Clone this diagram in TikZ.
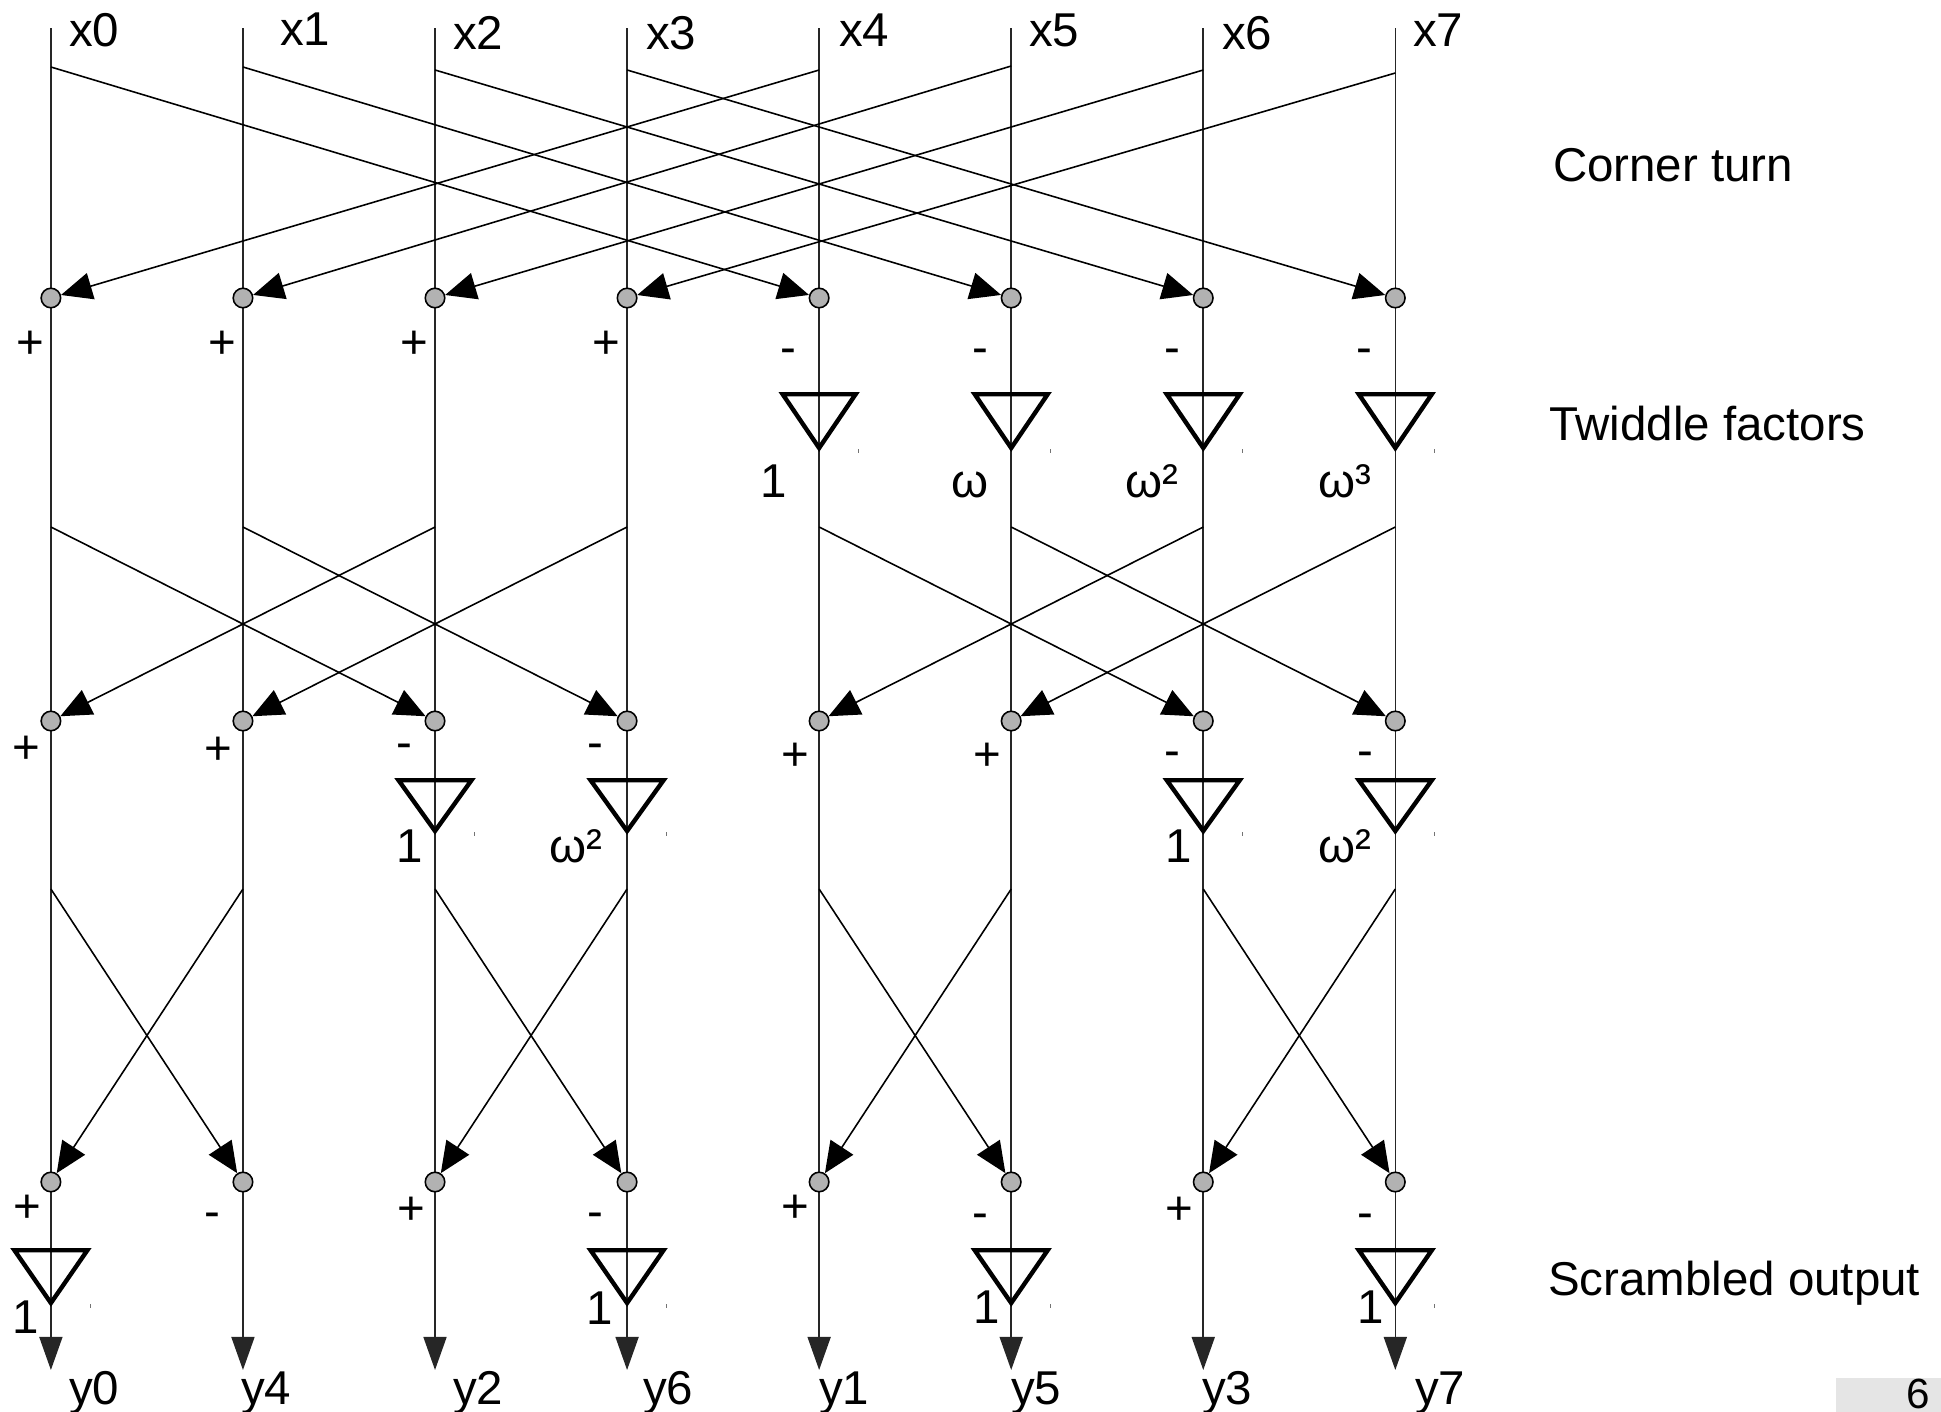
\documentclass[tikz,border=0pt]{standalone}
\usepackage{fontspec}
\setmainfont{Liberation Sans}
\usetikzlibrary{arrows.meta}
\begin{document}
\begin{tikzpicture}[x=0.01cm,y=-0.01cm,
  wire/.style={line width=0.45pt, draw=black!85},
  diag/.style={line width=0.45pt, draw=black},
  tipd/.style={-{Triangle[length=0.33cm,width=0.23cm]}},
  tipx/.style={-{Triangle[length=0.31cm,width=0.27cm]}},
  sumdot/.style={circle, draw=black, line width=0.45pt, fill=black!30, minimum size=0.195cm, inner sep=0pt},
  twid/.style={draw=black, line width=1.25pt, line join=miter},
  lbl/.style={inner sep=0pt, outer sep=0pt, font=\fontsize{13.5pt}{16pt}\selectfont},
  handle/.style={line width=0.3pt, draw=black!55}
]
\useasboundingbox (0,0) rectangle (1941,1412);
% column coordinates
\foreach \i in {0,...,7}{
  \pgfmathsetmacro\cx{50.9+192.06*\i}
  \coordinate (top\i) at (\cx,28);
  \coordinate (bot\i) at (\cx,1370);
  \coordinate (sb\i) at (\cx,527);
  \coordinate (sc\i) at (\cx,889);
}
% vertical wires with output arrows
\foreach \i in {0,...,7}{
  \draw[wire,tipd] (top\i) -- (bot\i);
}
% twiddle-factor triangles
\foreach \i/\yt/\ya in {4/392/452,5/392/452,6/392/452,7/392/452,
                        2/778/835,3/778/835,6/778/835,7/778/835,
                        0/1248/1307,3/1248/1307,5/1248/1307,7/1248/1307}{
  \pgfmathsetmacro\cx{50.9+192.06*\i}
  \draw[twid] (\cx-36.5,\yt+2.2) -- (\cx+36.5,\yt+2.2) -- (\cx,\ya-4) -- cycle;
  \draw[handle] (\cx+39.5,\ya-3) -- (\cx+39.5,\ya+1);
}
% summing dots
\foreach \i in {0,...,7}{
  \pgfmathsetmacro\cx{50.9+192.06*\i}
  \node[sumdot] (da\i) at (\cx,298) {};
  \node[sumdot] (db\i) at (\cx,721) {};
  \node[sumdot] (dc\i) at (\cx,1182) {};
}
% stage A: corner turn
\foreach \i/\sy/\t in {0/67/4,1/67/5,2/70/6,3/70/7,4/70/0,5/66/1,6/70/2,7/73/3}{
  \pgfmathsetmacro\cx{50.9+192.06*\i}
  \coordinate (sa\i) at (\cx,\sy);
  \draw[diag,tipx] (sa\i) -- (da\t);
}
% stage B
\foreach \i/\t in {0/2,1/3,2/0,3/1,4/6,5/7,6/4,7/5}{
  \draw[diag,tipx] (sb\i) -- (db\t);
}
% stage C
\foreach \i/\t in {0/1,1/0,2/3,3/2,4/5,5/4,6/7,7/6}{
  \draw[diag,tipx] (sc\i) -- (dc\t);
}
% signs
\foreach \st/\i/\dx/\by/\s in {
  A/0/-21/358/+,A/1/-21/358/+,A/2/-21/358/+,A/3/-21/358/+,
  A/4/-31/363/-,A/5/-31/363/-,A/6/-31/363/-,A/7/-31/363/-,
  B/0/-25/763/+,B/1/-25/764/+,B/2/-31/758/-,B/3/-32/758/-,
  B/4/-24/770/+,B/5/-24/770/+,B/6/-31/766/-,B/7/-30/766/-,
  C/0/-24/1222/+,C/1/-31/1227/-,C/2/-24/1224/+,C/3/-32/1227/-,
  C/4/-24/1222/+,C/5/-31/1228/-,C/6/-24/1224/+,C/7/-30/1228/-}{
  \pgfmathsetmacro\cx{50.9+192.06*\i+(\dx)}
  \node[lbl,anchor=base] (sg\st\i) at (\cx,\by) {\s};
}
% twiddle labels
\foreach \st/\i/\dx/\by/\t in {
  A/4/-45/497/1,A/5/-41/497/ω,A/6/-51/497/ω²,A/7/-50/497/ω³,
  B/2/-25/862/1,B/3/-51/862/ω²,B/6/-25/862/1,B/7/-50/862/ω²,
  C/0/-25/1333/1,C/3/-27/1324/1,C/5/-25/1323/1,C/7/-25/1323/1}{
  \pgfmathsetmacro\cx{50.9+192.06*\i+(\dx)}
  \node[lbl,anchor=base] (tw\st\i) at (\cx,\by) {\t};
}
% input labels
\foreach \i/\lx/\by in {0/69/47,1/280/45,2/453/50,3/646/50,4/839/47,5/1029/47,6/1222/50,7/1413/47}{
  \node[lbl,anchor=base west] (xl\i) at (\lx,\by) {x\i};
}
% output labels
\foreach \n/\lx in {0/69,4/241,2/453,6/643,1/819,5/1011,3/1202,7/1415}{
  \node[lbl,anchor=base west] (yl\n) at (\lx,1404) {y\n};
}
% stage captions
\node[lbl,anchor=base west] (cap1) at (1553,181) {Corner turn};
\node[lbl,anchor=base west] (cap2) at (1549,440) {Twiddle factors};
\node[lbl,anchor=base west] (cap3) at (1548,1295) {Scrambled output};
% page number box
\fill[black!10] (1836,1378) rectangle (1941,1412);
\node[lbl,anchor=base east,font=\fontsize{12pt}{14pt}\selectfont] (pg) at (1930,1408) {6};
\end{tikzpicture}
\end{document}
